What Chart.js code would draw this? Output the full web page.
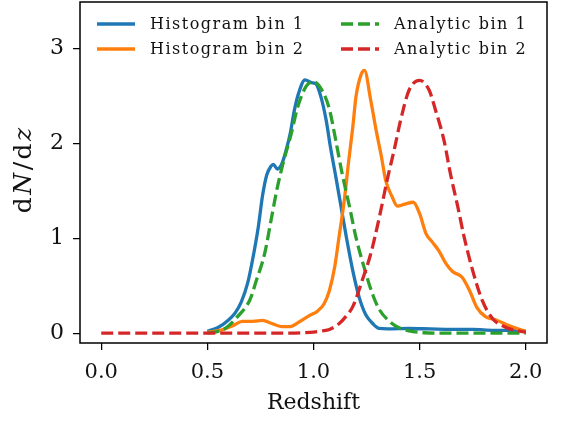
<!DOCTYPE html>
<html>
<head>
<meta charset="utf-8">
<script src="https://cdn.jsdelivr.net/npm/chart.js@4.4.0/dist/chart.umd.min.js"></script>
<style>
  html, body { margin: 0; padding: 0; background: #fff; }
  #wrap { width: 564px; height: 421px; }
</style>
</head>
<body>
<div id="wrap"><canvas id="c"></canvas></div>
<script>
// Histogram bin 1
const hist1X = [0.50, 0.55, 0.60, 0.63, 0.66, 0.69, 0.71, 0.74, 0.76, 0.78, 0.80, 0.81, 0.83, 0.85, 0.87, 0.89, 0.91, 0.93, 0.96, 0.99, 1.01, 1.035, 1.06, 1.08, 1.105, 1.13, 1.155, 1.185, 1.215, 1.245, 1.28, 1.31, 1.35, 1.45, 1.55, 1.65, 1.75, 1.85, 1.95, 2.00]
const hist1Y = [0.02, 0.06, 0.14, 0.21, 0.33, 0.53, 0.74, 1.12, 1.45, 1.67, 1.76, 1.78, 1.73, 1.78, 1.92, 2.10, 2.35, 2.53, 2.67, 2.64, 2.63, 2.49, 2.24, 1.96, 1.65, 1.33, 1.01, 0.66, 0.38, 0.20, 0.10, 0.05, 0.045, 0.05, 0.045, 0.04, 0.04, 0.03, 0.03, 0.02]

// Histogram bin 2
const hist2X = [0.50, 0.57, 0.62, 0.665, 0.715, 0.76, 0.80, 0.85, 0.89, 0.93, 0.98, 1.02, 1.05, 1.075, 1.10, 1.12, 1.145, 1.165, 1.185, 1.20, 1.225, 1.24, 1.27, 1.295, 1.32, 1.34, 1.37, 1.395, 1.43, 1.47, 1.50, 1.53, 1.56, 1.59, 1.625, 1.655, 1.70, 1.735, 1.77, 1.81, 1.86, 1.92, 2.00]
const hist2Y = [0.01, 0.035, 0.08, 0.125, 0.125, 0.135, 0.105, 0.07, 0.07, 0.115, 0.185, 0.235, 0.31, 0.45, 0.70, 1.01, 1.40, 1.80, 2.17, 2.49, 2.73, 2.77, 2.45, 2.14, 1.86, 1.61, 1.44, 1.34, 1.36, 1.38, 1.26, 1.05, 0.96, 0.87, 0.73, 0.65, 0.59, 0.45, 0.27, 0.175, 0.14, 0.08, 0.02]

// Analytic bin 1
const anal1X = [0.50, 0.55, 0.59, 0.64, 0.70, 0.73, 0.77, 0.80, 0.83, 0.86, 0.895, 0.925, 0.965, 1.00, 1.04, 1.075, 1.105, 1.135, 1.17, 1.20, 1.235, 1.28, 1.31, 1.355, 1.40, 1.45, 1.52, 1.60, 1.80, 2.00]
const anal1Y = [0.0, 0.02, 0.06, 0.17, 0.35, 0.55, 0.84, 1.19, 1.54, 1.82, 2.10, 2.38, 2.60, 2.65, 2.56, 2.36, 2.03, 1.68, 1.33, 1.01, 0.72, 0.40, 0.25, 0.13, 0.06, 0.025, 0.005, 0.0, 0.0, 0.0]

// Analytic bin 2
const anal2X = [0.0, 0.5, 0.9, 0.95, 1.0, 1.04, 1.075, 1.12, 1.15, 1.185, 1.23, 1.27, 1.31, 1.35, 1.38, 1.41, 1.45, 1.50, 1.545, 1.575, 1.615, 1.645, 1.68, 1.71, 1.75, 1.795, 1.845, 1.905, 1.95, 2.0]
const anal2Y = [0.0, 0.0, 0.0, 0.005, 0.012, 0.025, 0.04, 0.10, 0.17, 0.28, 0.56, 0.84, 1.22, 1.645, 1.93, 2.24, 2.56, 2.665, 2.56, 2.35, 2.03, 1.68, 1.33, 1.01, 0.66, 0.345, 0.15, 0.063, 0.03, 0.01]

// Подписи осей
const xTicks = [0, 0.5, 1, 1.5, 2]
const xTickLabels = ['0.0', '0.5', '1.0', '1.5', '2.0']
const yTicks = [0, 1, 2, 3]
const yTickLabels = ['0', '1', '2', '3']

const serif = '"DejaVu Serif", serif'
const ink = '#111'

function points(xs, ys) {
  return xs.map((x, i) => ({ x: x, y: ys[i] }))
}

function lineSet(label, xs, ys, color, dashed, order, col, row) {
  return {
    label: label,
    data: points(xs, ys),
    borderColor: color,
    backgroundColor: color,
    borderWidth: 3.3,
    borderDash: dashed ? [12, 5] : [],
    pointRadius: 0,
    fill: false,
    cubicInterpolationMode: 'monotone',
    order: order,
    legendCol: col,
    legendRow: row,
  }
}

// Рамка вокруг области графика
const frameBox = {
  id: 'frameBox',
  afterDatasetsDraw(chart) {
    const { ctx, chartArea: { left, top, width, height } } = chart
    ctx.save()
    ctx.strokeStyle = '#000'
    ctx.lineWidth = 1.5
    ctx.strokeRect(left, top, width, height)
    ctx.restore()
  },
}

// Легенда в две колонки внутри графика
const innerLegend = {
  id: 'innerLegend',
  afterDraw(chart) {
    const { ctx, chartArea: { left, top } } = chart
    ctx.save()
    ctx.font = '16px ' + serif
    ctx.letterSpacing = '1.5px'
    ctx.textBaseline = 'middle'
    chart.data.datasets.forEach((ds) => {
      const x0 = left + (ds.legendCol === 0 ? 17 : 261)
      const y0 = top + 22 + ds.legendRow * 25
      ctx.strokeStyle = ds.borderColor
      ctx.lineWidth = 3.3
      ctx.setLineDash(ds.borderDash)
      ctx.beginPath()
      ctx.moveTo(x0, y0)
      ctx.lineTo(x0 + 38, y0)
      ctx.stroke()
      ctx.setLineDash([])
      ctx.fillStyle = ink
      ctx.fillText(ds.label, x0 + 53, y0 + 1)
    })
    ctx.restore()
  },
}

// Подпись оси Y с курсивом
const yLabel = {
  id: 'yLabel',
  afterDraw(chart) {
    const { ctx, chartArea: { top, bottom } } = chart
    const parts = [
      ['d', false],
      ['N', true],
      ['/d', false],
      ['z', true],
    ]
    const size = 25
    const spacing = 2.5
    ctx.save()
    ctx.translate(24, (top + bottom) / 2 - 2)
    ctx.rotate(-Math.PI / 2)
    ctx.fillStyle = ink
    ctx.textBaseline = 'middle'
    ctx.textAlign = 'left'
    ctx.letterSpacing = spacing + 'px'
    let total = -spacing
    parts.forEach((p) => {
      ctx.font = (p[1] ? 'italic ' : '') + size + 'px ' + serif
      total += ctx.measureText(p[0]).width
    })
    let x = -total / 2
    parts.forEach((p) => {
      ctx.font = (p[1] ? 'italic ' : '') + size + 'px ' + serif
      ctx.fillText(p[0], x, 0)
      x += ctx.measureText(p[0]).width
    })
    ctx.restore()
  },
}

const axisGrid = {
  drawOnChartArea: false,
  drawTicks: true,
  tickLength: 7,
  color: '#000',
  lineWidth: 1.25,
}

new Chart(document.getElementById('c'), {
  type: 'line',
  data: {
    datasets: [
      lineSet('Histogram bin 1', hist1X, hist1Y, '#1f77b4', false, 4, 0, 0),
      lineSet('Histogram bin 2', hist2X, hist2Y, '#ff7f0e', false, 3, 0, 1),
      lineSet('Analytic bin 1', anal1X, anal1Y, '#2ca02c', true, 2, 1, 0),
      lineSet('Analytic bin 2', anal2X, anal2Y, '#d62728', true, 1, 1, 1),
    ],
  },
  options: {
    responsive: true,
    maintainAspectRatio: false,
    animation: false,
    devicePixelRatio: 1,
    layout: { padding: { top: 2, right: 17, left: 0, bottom: 0 } },
    plugins: {
      legend: { display: false },
      tooltip: { enabled: false },
    },
    scales: {
      x: {
        type: 'linear',
        min: -0.1,
        max: 2.1,
        afterBuildTicks: (s) => { s.ticks = xTicks.map((v) => ({ value: v })) },
        afterFit: (s) => {
          s.height = 78
          s.paddingLeft = 0
          s.paddingRight = 0
        },
        ticks: {
          callback: (v, i) => xTickLabels[i],
          font: { family: serif, size: 21 },
          color: ink,
          padding: 10,
          maxRotation: 0,
          autoSkip: false,
        },
        grid: axisGrid,
        border: { display: false },
        title: {
          display: true,
          text: 'Redshift',
          font: { family: serif, size: 22 },
          color: ink,
          padding: { top: 0, bottom: 5 },
        },
      },
      y: {
        type: 'linear',
        min: -0.103,
        max: 3.49,
        afterBuildTicks: (s) => { s.ticks = yTicks.map((v) => ({ value: v })) },
        afterFit: (s) => {
          s.width = 80
          s.paddingTop = 0
          s.paddingBottom = 0
        },
        ticks: {
          callback: (v, i) => yTickLabels[i],
          font: { family: serif, size: 22 },
          color: ink,
          padding: 9,
        },
        grid: axisGrid,
        border: { display: false },
      },
    },
  },
  plugins: [frameBox, innerLegend, yLabel],
})
</script>
</body>
</html>
